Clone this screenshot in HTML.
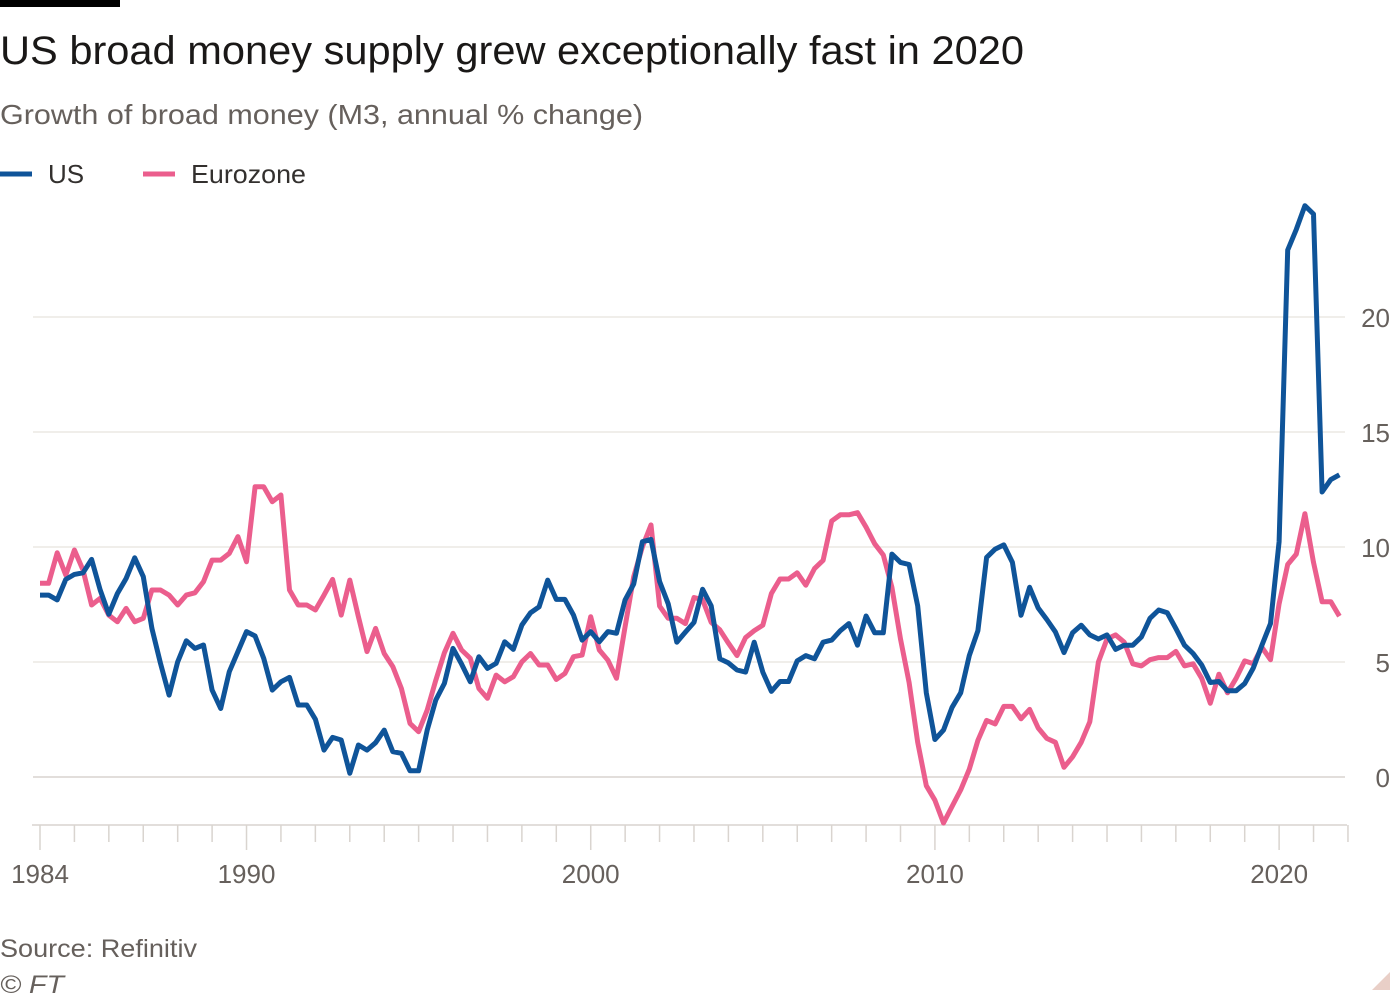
<!DOCTYPE html>
<html><head><meta charset="utf-8">
<style>
body{margin:0;background:#fff;width:1400px;height:999px;overflow:hidden;font-family:"Liberation Sans",sans-serif;}
svg{display:block}
</style></head>
<body>
<svg id="chart" width="1400" height="999" viewBox="0 0 1400 999" xmlns="http://www.w3.org/2000/svg">
<rect x="0" y="0" width="120" height="7" fill="#000"/>
<text x="0" y="64" font-size="40" fill="#1a1817" textLength="1024" lengthAdjust="spacingAndGlyphs">US broad money supply grew exceptionally fast in 2020</text>
<text x="0" y="124" font-size="28" fill="#66605c" textLength="643" lengthAdjust="spacingAndGlyphs">Growth of broad money (M3, annual % change)</text>
<g>
<line x1="0" y1="174" x2="32" y2="174" stroke="#0f5499" stroke-width="5"/>
<text x="48" y="183" font-size="26" fill="#33302e">US</text>
<line x1="143" y1="174" x2="175" y2="174" stroke="#eb5e8d" stroke-width="5"/>
<text x="191" y="183" font-size="26" fill="#33302e" textLength="115" lengthAdjust="spacingAndGlyphs">Eurozone</text>
</g>
<g id="grid"></g>
<g id="xaxis"></g>
<g id="series"></g>
<text x="0" y="957" font-size="25" fill="#66605c" textLength="197" lengthAdjust="spacingAndGlyphs">Source: Refinitiv</text>
<text x="0" y="993" font-size="25" font-style="italic" fill="#66605c" textLength="64" lengthAdjust="spacingAndGlyphs">© FT</text>
<polygon points="1390,972 1390,990 1372,990" fill="#e9cfc7"/>
</svg>
<script>
const startYear = 1984;
const yTicks = [0, 5, 10, 15, 20];
const xLabels = [1984, 1990, 2000, 2010, 2020];
const usValues = [7.91,7.91,7.70,8.59,8.81,8.88,9.46,8.13,7.08,7.98,8.63,9.53,8.71,6.46,4.94,3.56,5.01,5.92,5.59,5.74,3.78,2.98,4.58,5.45,6.32,6.13,5.16,3.78,4.14,4.33,3.13,3.13,2.51,1.17,1.72,1.61,0.16,1.39,1.17,1.49,2.04,1.10,1.03,0.27,0.27,2.04,3.35,4.07,5.59,4.91,4.14,5.23,4.72,4.94,5.88,5.55,6.61,7.14,7.40,8.56,7.72,7.72,7.04,5.95,6.32,5.88,6.32,6.25,7.70,8.39,10.23,10.33,
8.5,7.53,5.86,6.3,6.72,8.16,7.44,5.14,4.96,4.65,4.56,5.86,4.56,3.72,4.15,4.15,5.05,5.28,5.14,5.86,5.95,6.36,6.67,5.73,7.0,6.27,6.27,9.69,9.33,9.24,7.44,3.66,1.63,2.04,3.03,3.66,5.28,6.36,9.55,9.91,10.09,9.33,7.03,8.25,7.35,6.85,6.31,5.41,6.27,6.60,6.18,6.00,6.18,5.55,5.73,5.73,6.09,6.90,7.26,7.14,6.45,5.73,5.37,4.87,4.11,4.15,3.75,3.75,4.06,4.74,5.73,6.67,10.23,22.91,23.81,24.84,24.48,12.39,12.93,13.14];
const ezValues = [8.42,8.42,9.75,8.78,9.87,9.0,7.48,7.77,7.04,6.75,7.33,6.75,6.9,8.13,8.13,7.91,7.48,7.91,8.01,8.49,9.43,9.43,9.72,10.45,9.36,12.62,12.62,11.97,12.26,8.13,7.48,7.48,7.26,7.91,8.59,7.04,8.56,6.97,5.45,6.46,5.37,4.80,3.85,2.33,1.97,2.91,4.21,5.40,6.25,5.52,5.16,3.85,3.42,4.43,4.14,4.36,5.01,5.37,4.87,4.87,4.24,4.5,5.23,5.30,6.97,5.52,5.08,4.29,6.54,8.71,10.01,10.96,7.43,
6.9,6.9,6.67,7.8,7.71,6.72,6.40,5.82,5.28,6.06,6.36,6.60,7.98,8.61,8.61,8.88,8.34,9.06,9.42,11.13,11.40,11.40,11.49,10.86,10.14,9.65,8.25,6.0,4.11,1.51,-0.38,-1.01,-2.0,-1.28,-0.56,0.34,1.59,2.46,2.31,3.07,3.07,2.53,2.94,2.13,1.68,1.51,0.42,0.88,1.51,2.40,5.0,6.0,6.18,5.86,4.92,4.83,5.10,5.19,5.19,5.46,4.83,4.92,4.29,3.21,4.47,3.66,4.29,5.05,4.92,5.64,5.10,7.53,9.24,9.69,11.45,9.33,7.62,7.62,6.99];

const NS = "http://www.w3.org/2000/svg";
const xScale = yr => 40 + (yr - 1984) * 34.42;
const yScale = v => 777 - v * 23;
const grid = document.getElementById('grid');
yTicks.forEach(t => {
  const l = document.createElementNS(NS, 'line');
  
  
  l.setAttribute('x1', 33); l.setAttribute('x2', 1345);
  l.setAttribute('y1', yScale(t)); l.setAttribute('y2', yScale(t));
  l.setAttribute('stroke', t === 0 ? '#d9d4cf' : '#ebe8e3'); l.setAttribute('stroke-width', 1.5);
  grid.appendChild(l);
  const tx = document.createElementNS(NS, 'text');
  
  
  tx.setAttribute('x', 1390); tx.setAttribute('y', yScale(t) + 10);
  tx.setAttribute('text-anchor', 'end'); tx.setAttribute('font-size', 26); tx.setAttribute('fill', '#66605c');
  tx.textContent = t;
  grid.appendChild(tx);
});
const xa = document.getElementById('xaxis');
const base = document.createElementNS(NS, 'line');


base.setAttribute('x1', 32); base.setAttribute('x2', 1347); base.setAttribute('y1', 825); base.setAttribute('y2', 825);
base.setAttribute('stroke', '#d9d4cf'); base.setAttribute('stroke-width', 1.5);
xa.appendChild(base);
for (let yr = 1984; yr <= 2022; yr++) {
  const major = xLabels.includes(yr);
  const t = document.createElementNS(NS, 'line');
  
  
  t.setAttribute('x1', xScale(yr)); t.setAttribute('x2', xScale(yr));
  t.setAttribute('y1', 825); t.setAttribute('y2', major ? 850 : 842);
  t.setAttribute('stroke', '#d9d4cf'); t.setAttribute('stroke-width', 1.5);
  xa.appendChild(t);
}
xLabels.forEach(yr => {
  const tx = document.createElementNS(NS, 'text');
  
  
  tx.setAttribute('x', xScale(yr)); tx.setAttribute('y', 883);
  tx.setAttribute('text-anchor', 'middle'); tx.setAttribute('font-size', 26); tx.setAttribute('fill', '#66605c');
  tx.textContent = yr;
  xa.appendChild(tx);
});
const ser = document.getElementById('series');
function drawLine(vals, color, name) {
  const d = vals.map((v, i) => (i ? 'L' : 'M') + xScale(startYear + i * 0.25).toFixed(1) + ',' + yScale(v).toFixed(1)).join('');
  const p = document.createElementNS(NS, 'path');
  
  
  p.setAttribute('d', d); p.setAttribute('fill', 'none'); p.setAttribute('stroke', color);
  p.setAttribute('stroke-width', 5); p.setAttribute('stroke-linejoin', 'round');
  ser.appendChild(p);
}
drawLine(ezValues, '#eb5e8d', 'eurozone-line');
drawLine(usValues, '#0f5499', 'us-line');
</script>
</body></html>
